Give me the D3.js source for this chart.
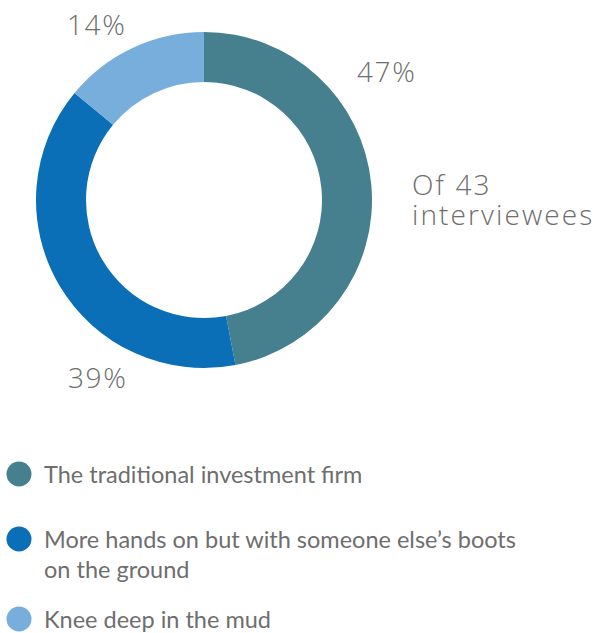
<!DOCTYPE html>
<html>
<head>
<meta charset="utf-8">
<script src="https://cdn.jsdelivr.net/npm/d3@7"></script>
<style>
  html, body { margin: 0; padding: 0; background: #fff; }
  svg { display: block; }
</style>
</head>
<body>
<svg id="chart" width="595" height="633"></svg>
<script>
// Share of interviewees by investment approach (n = 43)
const categories = [
  "The traditional investment firm",
  "More hands on but with someone else\u2019s boots on the ground",
  "Knee deep in the mud"
];
const shares = [47, 39, 14];
const shareLabels = ["47%", "39%", "14%"];
const colors = ["#467f8e", "#0b6fb8", "#78aedb"];
const noteLines = ["Of 43", "interviewees"];
const legendLines = [
  ["The traditional investment firm"],
  ["More hands on but with someone else\u2019s boots", "on the ground"],
  ["Knee deep in the mud"]
];

const svg = d3.select("#chart");
const textColor = "#6e6e6e";
const numFont = "'Open Sans', 'Noto Sans', sans-serif";
const legFont = "Lato, 'Source Sans Pro', sans-serif";

const cx = 204, cy = 200;
const g = svg.append("g").attr("transform", `translate(${cx},${cy})`);

const pie = d3.pie().sort(null).value(d => d)
  .startAngle(0).endAngle(2 * Math.PI);
const arc = d3.arc().innerRadius(118).outerRadius(168);
const arcs = pie(shares);

g.selectAll("path.slice")
  .data(arcs)
  .join("path")
  .attr("class", "slice")
  .attr("d", arc)
  .attr("fill", (d, i) => colors[i]);

// value labels, positioned beside each slice
const labelPos = [
  { x: 357, y: 82 },
  { x: 68, y: 388 },
  { x: 67, y: 35 }
];
svg.selectAll("text.pct")
  .data(shareLabels)
  .join("text")
  .attr("class", "pct")
  .attr("x", (d, i) => labelPos[i].x)
  .attr("y", (d, i) => labelPos[i].y)
  .attr("font-family", numFont)
  .attr("font-weight", 300)
  .attr("font-size", 28)
  .attr("letter-spacing", 1.6)
  .attr("fill", textColor)
  .text(d => d);

// note to the right of the ring (one text block, two lines)
svg.append("text")
  .attr("class", "note")
  .attr("x", 412)
  .attr("y", 195)
  .attr("font-family", numFont)
  .attr("font-weight", 300)
  .attr("font-size", 28)
  .attr("letter-spacing", 2.1)
  .attr("fill", textColor)
  .selectAll("tspan")
  .data(noteLines)
  .join("tspan")
  .attr("x", 412)
  .attr("dy", (d, i) => i === 0 ? 0 : 30)
  .text(d => d);

// legend
const legendY = [474, 539, 619];
const leg = svg.selectAll("g.leg")
  .data(categories)
  .join("g")
  .attr("class", "leg")
  .attr("transform", (d, i) => `translate(0,${legendY[i]})`);
leg.append("circle")
  .attr("cx", 19).attr("cy", 0).attr("r", 12.5)
  .attr("fill", (d, i) => colors[i]);
leg.each(function (d, i) {
  d3.select(this).append("text")
    .attr("x", 44)
    .attr("y", 9)
    .attr("font-family", legFont)
    .attr("font-size", 23.5)
    .attr("fill", textColor)
    .selectAll("tspan")
    .data(legendLines[i])
    .join("tspan")
    .attr("x", 44)
    .attr("dy", (t, j) => j === 0 ? 0 : 30)
    .text(t => t);
});
</script>
</body>
</html>
